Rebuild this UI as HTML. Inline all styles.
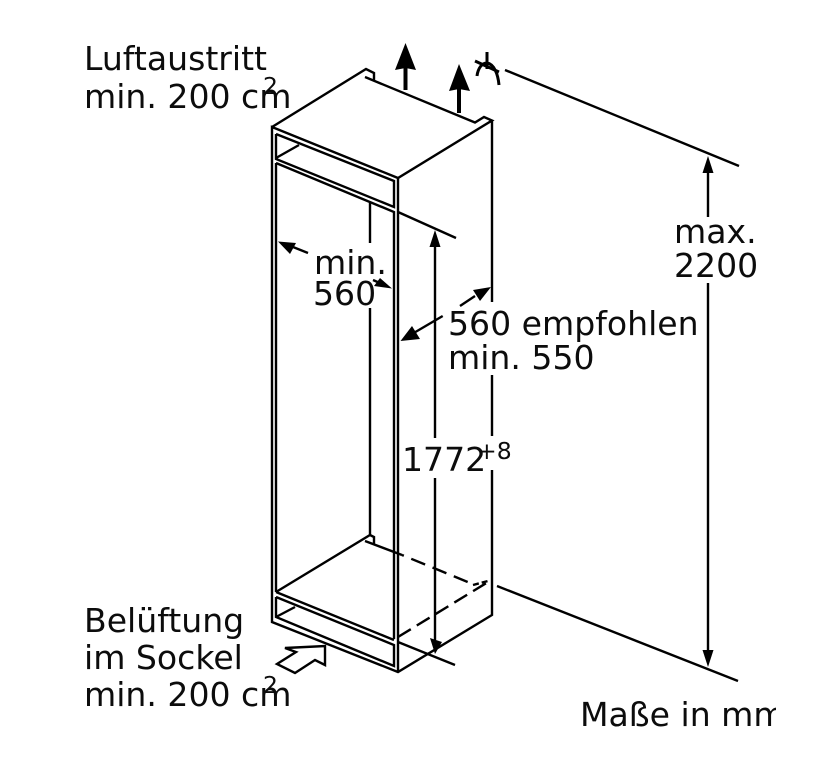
<!DOCTYPE html>
<html>
<head>
<meta charset="utf-8">
<style>
html,body{margin:0;padding:0;background:#fff}
svg{display:block}
text{font-family:"DejaVu Sans",sans-serif;fill:#0c0c0c;font-size:33.1px}
.s{font-size:23.5px}
</style>
</head>
<body>
<svg width="832" height="769" viewBox="0 0 832 769" xmlns="http://www.w3.org/2000/svg">
<rect width="832" height="769" fill="#fff"/>
<g fill="none" stroke="#000" stroke-width="2.400" stroke-linejoin="miter">
<!-- cabinet outer -->
<path d="M272 127L366 69L374 73V81M365 77L475 122.500L484 117L492 120.500L398 178L272 127V622L398 672L492 615V470M492 436V375M492 302V120.500"/>
<path d="M398 178V672"/>
<!-- top rail -->
<path d="M276 134L394 181V207L276 159V134"/>
<path d="M276 158L299 145"/>
<path d="M276 163L394 212V639"/>
<path d="M276 163V592"/>
<!-- floor -->
<path d="M276 592L394 640"/>
<path d="M276 592L370 535L374 537V544M365 541L402 555"/>
<path d="M276 597L394 645V666L276 617V597"/>
<path d="M276 617L295 607"/>
<!-- dashed -->
<path d="M402 555L475 585" stroke-dasharray="15 8" stroke-dashoffset="-10"/>
<path d="M398 637L488 582" stroke-dasharray="15 7"/>
<path d="M473 585L488 581" stroke-dasharray="6 3"/>
<!-- back post -->
<path d="M370 203V243M370 308V535"/>
<!-- extension lines -->
<path d="M505 70L739 166"/>
<path d="M497 586L738 681"/>
<path d="M398 212L456 238"/>
<path d="M398 642L455 665"/>
<!-- dimension lines -->
<path d="M708 170V217M708 283V655"/>
<path d="M435 240V438M435 478V640"/>
<path d="M288 245L308 253"/>
<path d="M373 280L382 284"/>
<path d="M475 296L460 306"/>
<path d="M442.700 316L412 334"/>
<!-- symbol -->
<path d="M487 52V69M475 61L499 72M477 76C478 68 482 63 487 63C494 64 498 74 499 85" stroke-width="3"/>
<!-- inlet arrow -->
<path d="M285 648L325 646V665L315 660L295 673L277 664L296 652Z"/>
</g>
<g stroke="#000" stroke-width="4" fill="none">
<path d="M405.500 66V90"/>
<path d="M459 88V113"/>
</g>
<g fill="#000">
<path d="M405.500 43L416 70L405.500 68L395 70Z"/>
<path d="M459 64L470 91L459 89L449 91Z"/>
<path d="M708 156L713.500 173L702.500 173Z"/>
<path d="M708 667L702.500 650L713.500 650Z"/>
<path d="M435 230L440.500 247L429.500 247Z"/>
<path d="M435 654L430 638L442 642Z"/>
<path d="M278 241.500L296 243L290 254Z"/>
<path d="M392 288.500L374 286L380 278Z"/>
<path d="M491 287L480 301L473 290Z"/>
<path d="M400.500 341L412 326L420 339Z"/>
</g>
<text x="84" y="70">Luftaustritt</text>
<text x="84" y="108">min. 200 cm</text>
<text class="s" x="263" y="94">2</text>
<text x="314" y="274">min.</text>
<text x="313" y="305">560</text>
<text x="674" y="243">max.</text>
<text x="674" y="277">2200</text>
<text x="448" y="335">560 empfohlen</text>
<text x="448" y="369">min. 550</text>
<text x="402" y="471">1772</text>
<text class="s" x="477" y="459">+8</text>
<text x="84" y="632">Belüftung</text>
<text x="84" y="669">im Sockel</text>
<text x="84" y="706">min. 200 cm</text>
<text class="s" x="263" y="693">2</text>
<svg x="0" y="0" width="776" height="769" viewBox="0 0 776 769"><text x="580" y="726">Maße in mm</text></svg>
</svg>
</body>
</html>
